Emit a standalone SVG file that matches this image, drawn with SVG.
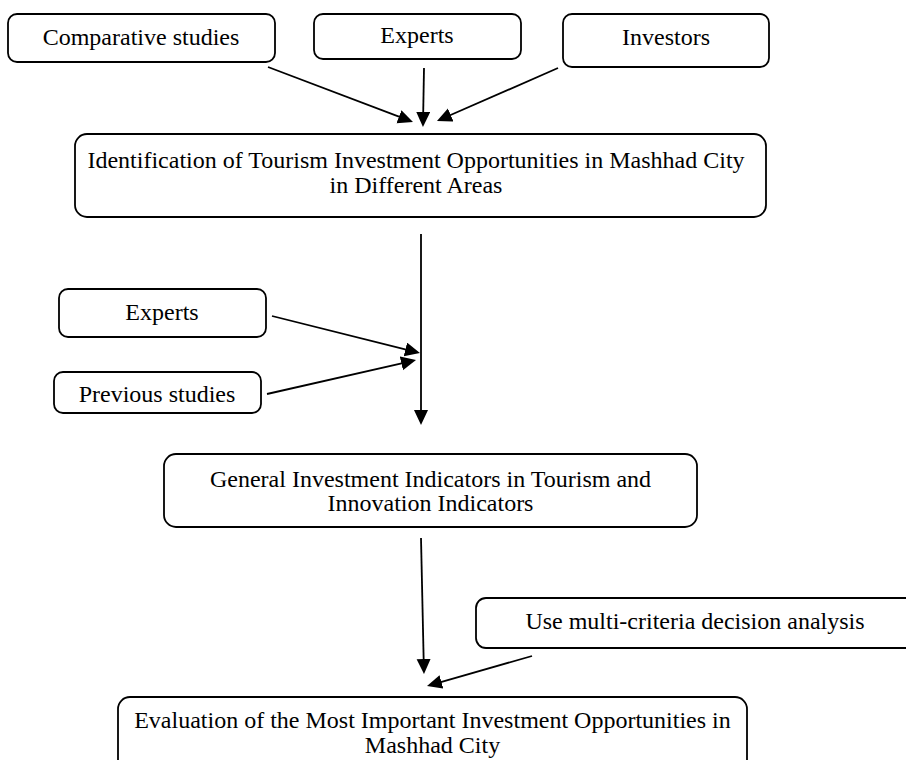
<svg xmlns="http://www.w3.org/2000/svg" width="906" height="760" viewBox="0 0 906 760">
<style>
.box{fill:#fff;stroke:#000;stroke-width:1.8}
.t{font-family:"Liberation Serif","Times New Roman",serif;font-size:24px;fill:#000;text-anchor:middle}
.c{stroke:#000;stroke-width:1.8;fill:none;marker-end:url(#ah)}
</style>
<defs>
<marker id="ah" markerUnits="userSpaceOnUse" markerWidth="16" markerHeight="16" refX="7" refY="7" orient="auto">
<path d="M0,0 L15,7 L0,14 Z" fill="#000"/>
</marker>
</defs>
<rect width="906" height="760" fill="#fff"/>
<g id="n-comparative">
<rect class="box" x="8" y="14" width="267" height="48" rx="9"/>
<text class="t" x="141" y="45">Comparative studies</text>
</g>
<g id="n-experts-top">
<rect class="box" x="314" y="14" width="207" height="45" rx="9"/>
<text class="t" x="417" y="43">Experts</text>
</g>
<g id="n-investors">
<rect class="box" x="563" y="14" width="206" height="53" rx="9"/>
<text class="t" x="666" y="45">Investors</text>
</g>
<g id="n-identification">
<rect class="box" x="75" y="134" width="691" height="83" rx="12"/>
<text class="t" x="416" y="168">Identification of Tourism Investment Opportunities in Mashhad City</text>
<text class="t" x="416" y="193">in Different Areas</text>
</g>
<g id="n-experts-mid">
<rect class="box" x="59" y="289" width="207" height="48" rx="9"/>
<text class="t" x="162" y="320">Experts</text>
</g>
<g id="n-previous">
<rect class="box" x="54" y="372" width="207" height="41" rx="9"/>
<text class="t" x="157" y="402">Previous studies</text>
</g>
<g id="n-general">
<rect class="box" x="164" y="454" width="533" height="73" rx="12"/>
<text class="t" x="430.5" y="487">General Investment Indicators in Tourism and</text>
<text class="t" x="430.5" y="511">Innovation Indicators</text>
</g>
<g id="n-mcda">
<rect class="box" x="476" y="598" width="440" height="50" rx="10"/>
<text class="t" x="695" y="629">Use multi-criteria decision analysis</text>
</g>
<g id="n-evaluation">
<rect class="box" x="118" y="697" width="629" height="80" rx="12"/>
<text class="t" x="432.5" y="728">Evaluation of the Most Important Investment Opportunities in</text>
<text class="t" x="432.5" y="753">Mashhad City</text>
</g>
<g id="connectors">
<line class="c" x1="268" y1="67" x2="405.5" y2="119.2"/>
<line class="c" x1="424" y1="68" x2="423.1" y2="119"/>
<line class="c" x1="558" y1="68" x2="444.3" y2="117.8"/>
<line class="c" x1="421" y1="234" x2="421" y2="417"/>
<line class="c" x1="272" y1="316" x2="412.2" y2="351.1"/>
<line class="c" x1="267" y1="394" x2="408.2" y2="361.8"/>
<line class="c" x1="421" y1="538" x2="423.8" y2="666"/>
<line class="c" x1="532" y1="656" x2="434.7" y2="683.8"/>
</g>
</svg>
